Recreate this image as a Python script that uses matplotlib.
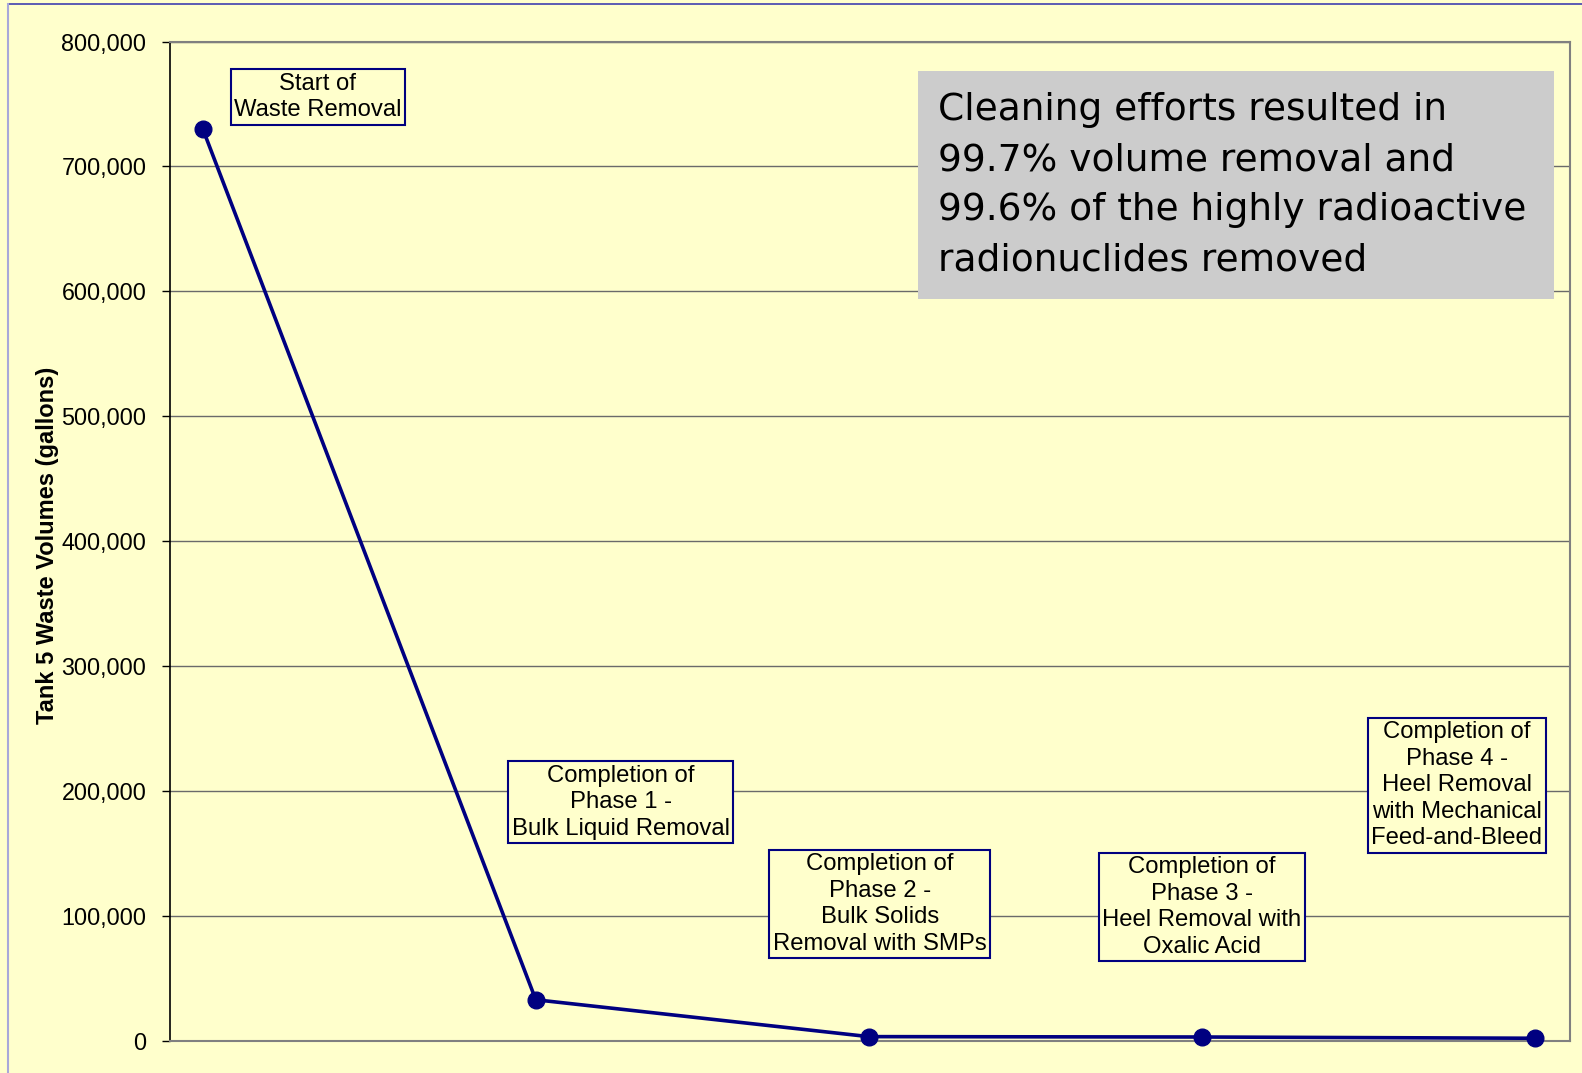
import matplotlib.pyplot as plt
from matplotlib.patches import Rectangle
from matplotlib.lines import Line2D
from matplotlib.ticker import FuncFormatter

# data
stages = [0, 1, 2, 3, 4]
volumes = [730000, 33000, 3500, 3200, 2200]
stage_labels = [
    'Start of\nWaste Removal',
    'Completion of\nPhase 1 -\nBulk Liquid Removal',
    'Completion of\nPhase 2 -\nBulk Solids\nRemoval with SMPs',
    'Completion of\nPhase 3 -\nHeel Removal with\nOxalic Acid',
    'Completion of\nPhase 4 -\nHeel Removal\nwith Mechanical\nFeed-and-Bleed',
]
yticks = [0, 100000, 200000, 300000, 400000, 500000, 600000, 700000, 800000]
note = ('Cleaning efforts resulted in\n99.7% volume removal and\n'
        '99.6% of the highly radioactive\nradionuclides removed')

bg = '#FFFFCC'
navy = '#000080'
W, H = 1582, 1073

fig = plt.figure(figsize=(W / 100, H / 100), dpi=100, facecolor=bg)
ax = fig.add_axes([170 / W, 1 - 1041 / H, 1400 / W, 999.5 / H])
ax.set_facecolor(bg)

# figure frame lines (top and left)
fig.add_artist(Line2D([8 / W, 1], [1 - 4 / H, 1 - 4 / H], color='#4040B0', lw=1.2))
fig.add_artist(Line2D([8 / W, 8 / W], [0, 1 - 4 / H], color='#A8A8DA', lw=1.5))

ax.plot(stages, volumes, color=navy, lw=2.6, marker='o', ms=12, zorder=5, clip_on=False)

ax.set_xlim(-0.0985, 4.106)
ax.set_ylim(0, 800000)
ax.set_yticks(yticks)
ax.yaxis.set_major_formatter(FuncFormatter(lambda v, p: '{:,}'.format(int(v))))
ax.set_xticks([])
ax.tick_params(axis='y', labelsize=16.8, length=6, width=1, colors='#000000', pad=11)
for lab in ax.get_yticklabels():
    lab.set_family('Liberation Sans')
ax.grid(axis='y', color='#6a6a6a', lw=1)
ax.set_axisbelow(True)

ax.spines['left'].set_color('#000000')
ax.spines['left'].set_linewidth(1.2)
for s in ['top', 'right', 'bottom']:
    ax.spines[s].set_color('#808080')
    ax.spines[s].set_linewidth(1.5)

ax.set_ylabel('Tank 5 Waste Volumes (gallons)', fontsize=17, fontweight='bold',
              family='Liberation Sans')
ax.yaxis.set_label_coords(-0.079, 0.496)

# stage annotation boxes (axes fraction)
box_pos = [(0.1056, 0.9446), (0.3218, 0.239), (0.507, 0.137), (0.7369, 0.134), (0.9192, 0.256)]
for (bx, by), txt in zip(box_pos, stage_labels):
    ax.text(bx, by, txt, transform=ax.transAxes, ha='center', va='center',
            fontsize=17.2, family='Liberation Sans', linespacing=1.26, zorder=6,
            bbox=dict(boxstyle='square,pad=0.15', facecolor=bg, edgecolor=navy, lw=1.5))

# summary note
ax.add_patch(Rectangle((0.534, 0.7428), 0.9886 - 0.534, 0.9709 - 0.7428,
                       transform=ax.transAxes, facecolor='#CCCCCC', edgecolor='none', zorder=6))
ax.text(0.5486, 0.8563, note, transform=ax.transAxes, ha='left', va='center',
        fontsize=27, family='DejaVu Sans Condensed', linespacing=1.5, zorder=7)

fig.savefig('out.png', dpi=100, facecolor=bg)
